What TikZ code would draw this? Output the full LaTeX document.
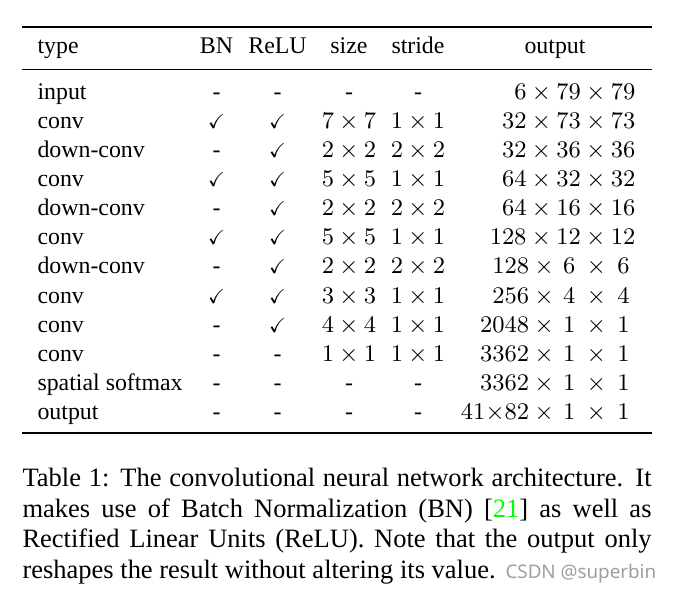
\documentclass[tikz,border=0pt]{standalone}
\usepackage{amssymb}
\usepackage[no-math]{fontspec}
\setmainfont{Liberation Serif}
\newfontfamily\marksans{Noto Sans}
\usepackage{tikz}
\definecolor{citegreen}{rgb}{0,1,0}
\newcommand{\tick}{\scalebox{0.85}{$\checkmark$}}

\begin{document}
\begin{tikzpicture}[x=0.3774pt, y=-0.3774pt,
    cell/.style={inner sep=0pt, anchor=base, font=\fontsize{9}{11}\selectfont},
    cellleft/.style={cell, anchor=base west},
    cellright/.style={cell, anchor=base east}]
    \useasboundingbox (0,0) rectangle (673,593);

    % draw top, middle and bottom rules
    \draw[line width=0.72pt] (22,27.3) -- (652,27.3);
    \draw[line width=0.45pt] (22,69.5) -- (652,69.5);
    \draw[line width=0.72pt] (22,433) -- (652,433);

    % draw header
    \node[cellleft] (htype) at (37,54) {type};
    \node[cell] (hbn) at (216.5,54) {BN};
    \node[cell] (hrelu) at (277.5,54) {ReLU};
    \node[cell] (hsize) at (349,54) {size};
    \node[cell] (hstride) at (418,54) {stride};
    \node[cell] (houtput) at (555,54) {output};

    % draw rows
    \foreach \i/\ty/\bn/\rl/\sz/\st/\outp in {
      0/input/-/-/-/-/{$6\times79\times79$},
      1/conv/\tick/\tick/{$7\times7$}/{$1\times1$}/{$32\times73\times73$},
      2/down-conv/-/\tick/{$2\times2$}/{$2\times2$}/{$32\times36\times36$},
      3/conv/\tick/\tick/{$5\times5$}/{$1\times1$}/{$64\times32\times32$},
      4/down-conv/-/\tick/{$2\times2$}/{$2\times2$}/{$64\times16\times16$},
      5/conv/\tick/\tick/{$5\times5$}/{$1\times1$}/{$128\times12\times12$},
      6/down-conv/-/\tick/{$2\times2$}/{$2\times2$}/{$128\times\mkern3mu6\ \times\ 6\ $},
      7/conv/\tick/\tick/{$3\times3$}/{$1\times1$}/{$256\times\mkern3mu4\ \times\ 4\ $},
      8/conv/-/\tick/{$4\times4$}/{$1\times1$}/{$2048\times\mkern3mu1\ \times\ 1\ $},
      9/conv/-/-/{$1\times1$}/{$1\times1$}/{$3362\times\mkern3mu1\ \times\ 1\ $},
      10/spatial softmax/-/-/-/-/{$3362\times\mkern3mu1\ \times\ 1\ $},
      11/output/-/-/-/-/{$41{\times}82\times\mkern3mu1\ \times\ 1\ $}}
    {
      \node[cellleft] (type\i) at (37, 99+29.15*\i) {\ty};
      \node[cell] (bn\i) at (216.5, 99+29.15*\i) {\bn};
      \node[cell] (relu\i) at (277.5, 99+29.15*\i) {\rl};
      \node[cell] (size\i) at (349, 99+29.15*\i) {\sz};
      \node[cell] (stride\i) at (418, 99+29.15*\i) {\st};
      \node[cellright] (out\i) at (636, 99+29.15*\i) {\outp};
    }

    % draw caption
    \node[anchor=base west, inner sep=0pt, text width=237.4pt, align=justify,
      font=\fontsize{10}{11.6}\selectfont] (caption) at (22,486.5)
      {Table 1: The convolutional neural network architecture. It\linebreak
       makes use of Batch Normalization (BN) [\textcolor{citegreen}{21}] as well as\linebreak
       Rectified Linear Units (ReLU). Note that the output only\linebreak
       reshapes the result without altering its value.};
    \node[anchor=base west, inner sep=0pt, text=black!38,
      font=\marksans\fontsize{7.1}{8}\selectfont] (mark) at (505,578.5) {CSDN @superbin};
\end{tikzpicture}
\end{document}
